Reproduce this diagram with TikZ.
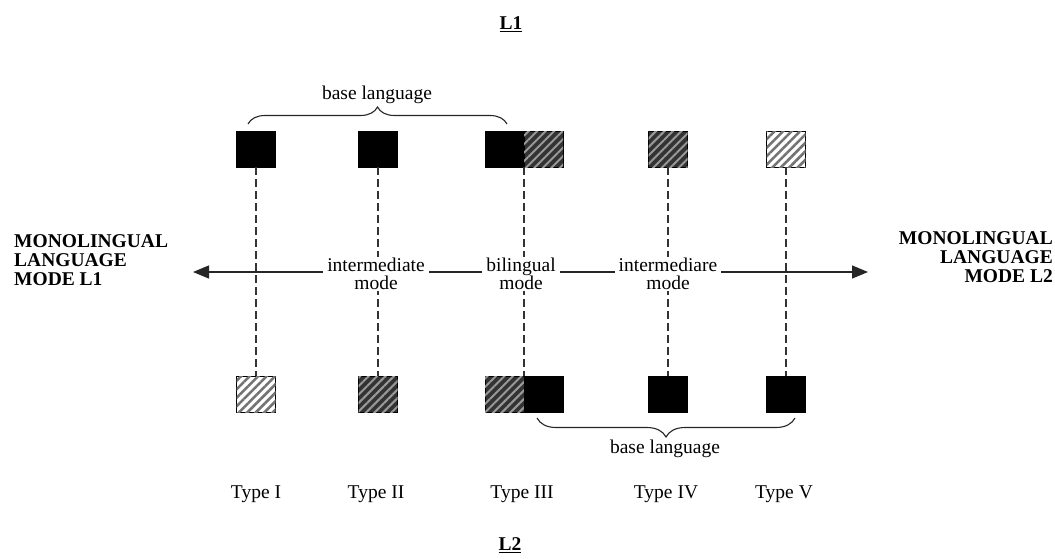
\documentclass[tikz,border=0pt]{standalone}
\usepackage{fontspec}
\setmainfont{Liberation Serif}
\usetikzlibrary{arrows.meta,patterns.meta,decorations.pathreplacing}
\newcommand\regtxt{\fontsize{19.5}{18}\selectfont}
\newcommand\boldtxt{\fontsize{19.5}{19.2}\selectfont\bfseries}
\tikzset{
  box/.style={minimum width=39pt, minimum height=36pt, inner sep=0pt, outer sep=0pt, draw=black, line width=1pt},
  solidbox/.style={box, fill=black},
  darkhatch/.style={box, fill=black!80, postaction={pattern={Lines[angle=45,distance=6pt,line width=2pt]}, pattern color=white!60!black}},
  lighthatch/.style={box, fill=white, postaction={pattern={Lines[angle=45,distance=6pt,line width=2.6pt]}, pattern color=black!55}},
  vdash/.style={draw=black!80, line width=1.4pt, dash pattern=on 8pt off 4pt},
  modelabel/.style={fill=white, align=center, inner xsep=4pt, inner ysep=1pt, font=\regtxt},
  plain/.style={font=\regtxt, inner sep=1pt},
  bigbold/.style={font=\boldtxt, inner sep=0pt},
  bracestyle/.style={decorate, line width=1.1pt, black!85},
  mytip/.tip={Triangle[length=16pt,width=13pt]}
}
\begin{document}
\begin{tikzpicture}[x=1pt,y=-1pt]
\fill[white] (0,0) rectangle (1055,558);
\useasboundingbox (0,0) rectangle (1055,558);

% titles
\node[bigbold] (L1) at (511,24) {\underline{L1}};
\node[bigbold] (L2) at (510,545) {\underline{L2}};

% top boxes
\node[solidbox] (t1) at (256,149) {};
\node[solidbox] (t2) at (378,149) {};
\node[solidbox] (t3a) at (504.5,149) {};
\node[darkhatch] (t3b) at (543.5,149) {};
\node[darkhatch] (t4) at (668,149) {};
\node[lighthatch] (t5) at (786,149) {};

% bottom boxes
\node[lighthatch] (b1) at (256,394) {};
\node[darkhatch] (b2) at (378,394) {};
\node[darkhatch] (b3a) at (504.5,394) {};
\node[solidbox] (b3b) at (543.5,394) {};
\node[solidbox] (b4) at (668,394) {};
\node[solidbox] (b5) at (786,394) {};

% dashed verticals
\draw[vdash] (t1.south) -- (b1.north);
\draw[vdash] (t2.south) -- (b2.north);
\draw[vdash] (t3a.south east) -- (b3a.north east);
\draw[vdash] (t4.south) -- (b4.north);
\draw[vdash] (t5.south) -- (b5.north);

% horizontal arrow
\coordinate (aL) at (193,272);
\coordinate (aR) at (868,272);
\draw[line width=1.3pt, black!85, mytip-mytip] (aL) -- (aR);

% mode labels
\node[modelabel] (im1) at (376,274) {intermediate\\mode};
\node[modelabel] (bil) at (521,274) {bilingual\\mode};
\node[modelabel] (im2) at (668,274) {intermediare\\mode};

% side labels
\node[bigbold, anchor=west, align=left] (ml1) at (14,260) {MONOLINGUAL\\LANGUAGE\\MODE L1};
\node[bigbold, anchor=east, align=right] (ml2) at (1053,257) {MONOLINGUAL\\LANGUAGE\\MODE L2};

% braces
\coordinate (br1a) at (248,124);
\coordinate (br1b) at (507,124);
\draw[bracestyle, decoration={brace, amplitude=17pt}] (br1a) -- (br1b);
\node[plain] (bl1) at (377,95) {base language};
\coordinate (br2a) at (795,418);
\coordinate (br2b) at (537,418);
\draw[bracestyle, decoration={brace, amplitude=19pt}] (br2a) -- (br2b);
\node[plain] (bl2) at (665,449) {base language};

% type labels
\node[plain] (ty1) at (256,494) {Type I};
\node[plain] (ty2) at (376,494) {Type II};
\node[plain] (ty3) at (522,494) {Type III};
\node[plain] (ty4) at (666,494) {Type IV};
\node[plain] (ty5) at (784,494) {Type V};
\end{tikzpicture}
\end{document}
